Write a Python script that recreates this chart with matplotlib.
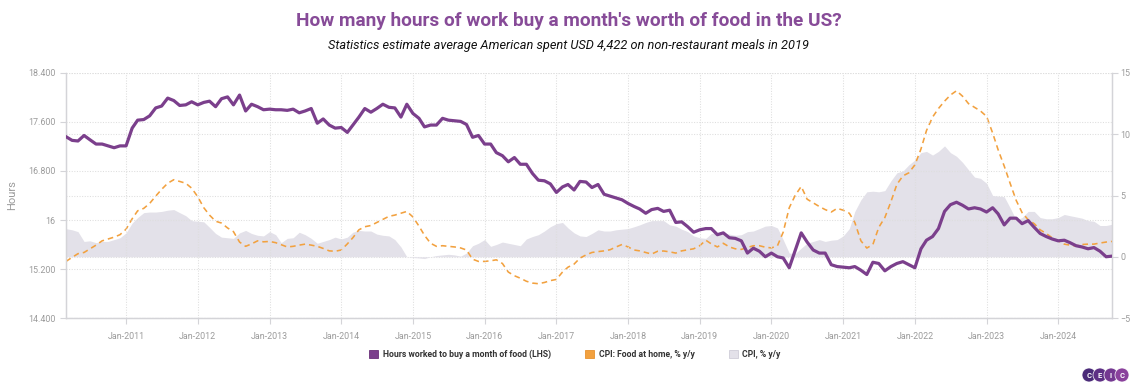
"""
Hours of work needed to buy a month of food in the US, with CPI context.
Monthly, Mar-2010 .. Oct-2024 (values read off the CEIC chart).
"""
import matplotlib
matplotlib.use("Agg")
import matplotlib.pyplot as plt
import matplotlib.dates as mdates
from matplotlib.patches import Patch, Ellipse
import pandas as pd

plt.rcParams["font.family"] = ["Roboto", "DejaVu Sans"]

# ---------- data ------------------------------------------------------------
START = "2010-03-01"

hours = [
    17.36, 17.30, 17.29, 17.38, 17.31, 17.24, 17.24, 17.21, 17.18, 17.21,   # 2010
    17.21, 17.50, 17.63, 17.64, 17.70, 17.83, 17.86, 17.99, 17.95, 17.87,
    17.88, 17.93, 17.88, 17.92, 17.94, 17.85, 17.98, 18.01, 17.88, 18.04,
    17.78, 17.89, 17.85, 17.80, 17.81, 17.80, 17.80, 17.79, 17.81, 17.75,
    17.78, 17.82, 17.58, 17.65, 17.55, 17.50, 17.51, 17.43, 17.55, 17.68,
    17.82, 17.76, 17.82, 17.89, 17.84, 17.83, 17.68, 17.89, 17.74, 17.66,
    17.52, 17.55, 17.55, 17.66, 17.63, 17.62, 17.61, 17.56, 17.35, 17.38,
    17.24, 17.24, 17.10, 17.05, 16.95, 17.02, 16.91, 16.91, 16.76, 16.65,
    16.64, 16.59, 16.45, 16.54, 16.58, 16.49, 16.63, 16.62, 16.53, 16.58,
    16.42, 16.39, 16.36, 16.33, 16.27, 16.22, 16.18, 16.11, 16.17, 16.19,
    16.14, 16.16, 15.96, 15.97, 15.89, 15.80, 15.84, 15.86, 15.86, 15.76,
    15.79, 15.71, 15.70, 15.66, 15.46, 15.54, 15.49, 15.40, 15.46, 15.40,
    15.38, 15.22, 15.50, 15.79, 15.64, 15.51, 15.46, 15.46, 15.27, 15.24,
    15.23, 15.22, 15.24, 15.18, 15.11, 15.31, 15.29, 15.17, 15.24, 15.29,
    15.32, 15.27, 15.22, 15.53, 15.67, 15.73, 15.86, 16.14, 16.25, 16.29,
    16.24, 16.18, 16.20, 16.18, 16.13, 16.20, 16.10, 15.92, 16.03, 16.03,
    15.94, 15.99, 15.88, 15.78, 15.73, 15.69, 15.66, 15.67, 15.63, 15.58,
    15.56, 15.53, 15.55, 15.49, 15.40, 15.41,
]

cpi_food_home = [
    -0.38, -0.05, 0.25, 0.35, 0.65, 0.95, 1.30, 1.45, 1.60, 1.80,
    2.25, 3.10, 3.75, 3.95, 4.35, 4.95, 5.50, 6.00, 6.29, 6.15,
    6.00, 5.60, 4.90, 4.00, 3.40, 2.90, 2.75, 2.35, 2.05, 1.20,
    0.85, 1.05, 1.30, 1.22, 1.25, 1.15, 0.98, 0.80, 0.85, 0.95,
    1.03, 0.95, 0.85, 0.68, 0.48, 0.45, 0.55, 1.05, 1.55, 2.20,
    2.45, 2.55, 2.80, 3.05, 3.30, 3.40, 3.55, 3.70, 3.25, 2.50,
    1.75, 1.10, 0.85, 0.90, 0.85, 0.80, 0.72, 0.55, -0.20, -0.38,
    -0.38, -0.33, -0.25, -0.55, -1.25, -1.55, -1.75, -2.00, -2.15, -2.20,
    -2.10, -1.95, -1.85, -1.25, -0.85, -0.60, -0.11, 0.15, 0.35, 0.42,
    0.48, 0.57, 0.80, 1.00, 0.80, 0.55, 0.48, 0.35, 0.22, 0.45,
    0.47, 0.40, 0.30, 0.48, 0.57, 0.65, 0.90, 1.35, 1.05, 0.80,
    1.10, 0.80, 0.65, 0.60, 0.75, 0.90, 0.90, 0.78, 0.72, 0.90,
    2.00, 4.00, 5.00, 5.74, 4.70, 4.40, 4.10, 3.85, 3.65, 3.95,
    3.80, 3.55, 2.80, 1.30, 0.71, 1.00, 2.40, 3.20, 4.50, 5.90,
    6.60, 6.85, 7.50, 8.80, 10.30, 11.40, 12.10, 12.70, 13.20, 13.55,
    13.10, 12.50, 12.20, 11.90, 11.46, 10.10, 8.73, 7.40, 6.00, 4.60,
    3.60, 3.02, 2.70, 2.20, 1.90, 1.55, 1.30, 1.03, 0.95, 0.88,
    1.00, 1.03, 1.03, 1.12, 1.20, 1.25,
]

cpi_all = [
    2.29, 2.20, 2.05, 1.25, 1.30, 1.15, 1.25, 1.25, 1.40, 1.55,
    1.95, 2.75, 3.20, 3.60, 3.65, 3.65, 3.70, 3.80, 3.85, 3.60,
    3.35, 2.95, 2.90, 2.85, 2.40, 1.90, 1.60, 1.55, 1.50, 1.95,
    2.15, 1.90, 1.75, 1.70, 2.05, 1.80, 1.15, 1.50, 1.55, 2.00,
    1.80, 1.50, 1.10, 1.25, 1.40, 1.60, 1.45, 1.60, 2.00, 2.15,
    2.10, 2.10, 1.85, 1.75, 1.70, 1.40, 0.80, 0.00, -0.06, -0.10,
    -0.15, 0.00, 0.10, 0.15, 0.20, 0.15, 0.05, 0.30, 0.90, 1.10,
    1.40, 0.85, 1.00, 1.20, 1.10, 1.00, 0.90, 1.45, 1.65, 1.80,
    2.10, 2.45, 2.70, 2.80, 2.35, 1.95, 1.70, 1.65, 1.90, 2.20,
    2.10, 2.10, 2.20, 2.25, 2.30, 2.45, 2.60, 2.80, 2.95, 2.95,
    2.95, 2.60, 2.50, 2.25, 2.05, 1.70, 1.55, 1.50, 1.90, 1.95,
    1.90, 1.85, 1.75, 1.80, 2.05, 2.10, 2.30, 2.50, 2.55, 2.35,
    1.40, 0.30, 0.25, 0.70, 1.10, 1.25, 1.40, 1.25, 1.35, 1.40,
    1.70, 2.30, 3.70, 4.65, 5.30, 5.35, 5.30, 5.40, 6.20, 6.85,
    7.00, 7.50, 7.90, 8.50, 8.60, 8.30, 8.60, 9.05, 8.50, 8.20,
    7.70, 7.10, 6.50, 6.40, 6.00, 5.00, 4.95, 4.90, 4.00, 3.00,
    3.20, 3.70, 3.70, 3.20, 3.10, 3.10, 3.20, 3.45, 3.35, 3.25,
    3.15, 2.95, 2.90, 2.55, 2.55, 2.65,
]

left_ticks = [14.4, 15.2, 16.0, 16.8, 17.6, 18.4]
left_labels = ["14.400", "15.200", "16", "16.800", "17.600", "18.400"]
right_ticks = [-5, 0, 5, 10, 15]
tick_years = list(range(2011, 2025))

dates = pd.date_range(START, periods=len(hours), freq="MS")

# ---------- style -----------------------------------------------------------
PURPLE = "#7b3f8c"
ORANGE = "#f2a13f"
GREY_FILL = "#e3e1e9"
AXIS_GREY = "#d4d4d8"
TEXT_GREY = "#9b9b9b"
GRID = "#dedede"

fig = plt.figure(figsize=(11.37, 3.89), dpi=100)
ax = fig.add_axes([66 / 1137, 1 - 318 / 389, (1112 - 66) / 1137, (318 - 73) / 389])
ax2 = ax.twinx()

# right axis: CPI area + food-at-home line
ax2.fill_between(dates, cpi_all, 0, color=GREY_FILL, lw=0, zorder=1)
ax2.plot(dates, cpi_food_home, color=ORANGE, lw=1.15, ls=(0, (3.5, 2.5)), zorder=3)
ax2.set_ylim(-5, 15)
ax2.set_yticks(right_ticks)

# left axis: hours on top
ax.set_zorder(ax2.get_zorder() + 1)
ax.patch.set_visible(False)
ax.plot(dates, hours, color=PURPLE, lw=2.3, zorder=4)
ax.set_ylim(14.4, 18.4)
ax.set_yticks(left_ticks)
ax.set_yticklabels(left_labels)
ax.set_ylabel("Hours", color=TEXT_GREY, fontsize=8, labelpad=8)
ax.set_xlim(dates[0], dates[-1])

xt = [pd.Timestamp(f"{y}-01-01") for y in tick_years]
ax.set_xticks(xt)
ax.xaxis.set_major_formatter(mdates.DateFormatter("%b-%Y"))

for a in (ax, ax2):
    a.tick_params(colors=AXIS_GREY, labelcolor=TEXT_GREY, labelsize=6.4,
                  length=4, width=0.8)
    a.spines["top"].set_visible(False)
    for side in ("left", "right", "bottom"):
        a.spines[side].set_color(AXIS_GREY)
        a.spines[side].set_linewidth(0.9)
ax.tick_params(axis="x", pad=6)
ax2.tick_params(axis="y", pad=2)

ax.grid(True, color=GRID, ls=(0, (1, 1.5)), lw=0.75)
ax2.grid(True, axis="y", color=GRID, ls=(0, (1, 1.5)), lw=0.75)
ax.set_axisbelow(True)
ax2.set_axisbelow(True)

# ---------- titles ----------------------------------------------------------
fig.text(0.5, 1 - 21 / 389, "How many hours of work buy a month's worth of food in the US?",
         ha="center", va="center", fontsize=13.7, fontweight="bold", color="#874b98")
fig.text(0.5, 1 - 45 / 389,
         "Statistics estimate average American spent USD 4,422 on non-restaurant meals in 2019",
         ha="center", va="center", fontsize=9.2, style="italic", color="#111111")

# ---------- legend ----------------------------------------------------------
handles = [
    Patch(facecolor=PURPLE, edgecolor="#6a3079", lw=0.6),
    Patch(facecolor=ORANGE, edgecolor="#e8922e", lw=0.6),
    Patch(facecolor=GREY_FILL, edgecolor="#cfcdd8", lw=0.6),
]
labels = ["Hours worked to buy a month of food (LHS)",
          "CPI: Food at home, % y/y",
          "CPI, % y/y"]
leg = fig.legend(handles, labels, loc="center", bbox_to_anchor=(575 / 1137, 1 - 354 / 389),
                 ncol=3, frameon=False, handlelength=1.0, handleheight=1.0,
                 handletextpad=0.55, columnspacing=4.0,
                 prop={"size": 6.2, "weight": "bold"})
for t in leg.get_texts():
    t.set_color("#333333")

# ---------- CEIC logo -------------------------------------------------------
logo_cols = ["#4a2a78", "#5e3085", "#743891", "#8a419c"]
for k, (letter, col) in enumerate(zip("CEIC", logo_cols)):
    cx = (1089 + k * 11) / 1137
    cy = 1 - 375 / 389
    fig.add_artist(Ellipse((cx, cy), 14 / 1137, 14 / 389, transform=fig.transFigure,
                           facecolor=col, edgecolor="white", lw=0.5))
    fig.text(cx, cy, letter, ha="center", va="center", fontsize=5.5,
             color="white", fontweight="bold")

fig.savefig("out.png", dpi=100)
